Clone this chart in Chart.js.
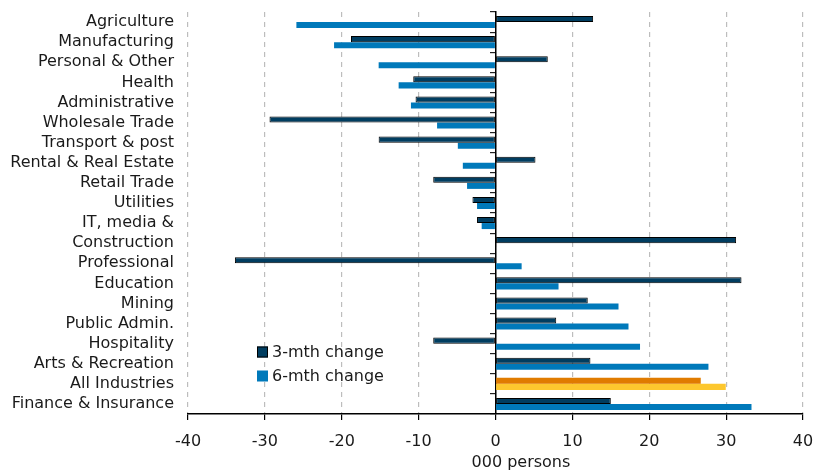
<!DOCTYPE html>
<html lang="en">
<head>
    <meta charset="UTF-8">
    <title>Employment change by industry</title>
    <script src="https://cdn.jsdelivr.net/npm/chart.js"></script>
    <style>
        html, body { margin: 0; padding: 0; background: #fff; }
        #wrap { width: 814px; height: 471px; }
    </style>
</head>
<body>
    <div id="wrap"><canvas id="myChart" width="814" height="471"></canvas></div>

    <script>
        // data (000 persons)
        const industries = [
            'Agriculture', 'Manufacturing', 'Personal & Other', 'Health', 'Administrative',
            'Wholesale Trade', 'Transport & post', 'Rental & Real Estate', 'Retail Trade', 'Utilities',
            'IT, media &', 'Construction', 'Professional', 'Education', 'Mining',
            'Public Admin.', 'Hospitality', 'Arts & Recreation', 'All Industries', 'Finance & Insurance'
        ];
        const change3m = [12.7, -18.8, 6.8, -10.7, -10.4, -29.4, -15.2, 5.2, -8.1, -3.0,
                          -2.4, 31.3, -33.9, 32.0, 12.0, 7.9, -8.1, 12.35, 26.7, 15.0];
        const change6m = [-25.9, -21.0, -15.2, -12.6, -11.0, -7.6, -4.9, -4.25, -3.7, -2.4,
                          -1.8, 0, 3.4, 8.2, 16.0, 17.3, 18.8, 27.7, 29.95, 33.3];
        const xTicks = [-40, -30, -20, -10, 0, 10, 20, 30, 40];

        const FONT = '"DejaVu Sans", Verdana, sans-serif';
        const NAVY = '#003d60';
        const BLUE = '#0079ba';
        const ORANGE = '#e07b00';
        const YELLOW = '#fdc72e';
        const totalIdx = industries.indexOf('All Industries');

        const fill3 = industries.map((_, i) => i === totalIdx ? ORANGE : NAVY);
        const border3 = industries.map((_, i) => i === totalIdx ? 0 : 1);
        const fill6 = industries.map((_, i) => i === totalIdx ? YELLOW : BLUE);

        // legend drawn inside the plot area
        const innerLegend = {
            id: 'innerLegend',
            afterDraw(chart) {
                const ctx = chart.ctx;
                const a = chart.chartArea;
                const x0 = a.left + 69;
                const rows = [a.top + 340, a.top + 364];
                ctx.save();
                ctx.font = '16px ' + FONT;
                ctx.textBaseline = 'middle';
                chart.data.datasets.forEach((ds, i) => {
                    const y = rows[i];
                    ctx.fillStyle = i === 0 ? NAVY : BLUE;
                    ctx.fillRect(x0, y - 5.5, 11, 11);
                    if (i === 0) {
                        ctx.strokeStyle = '#000';
                        ctx.lineWidth = 1;
                        ctx.strokeRect(x0 + 0.5, y - 5, 10, 10);
                    }
                    ctx.fillStyle = '#1a1a1a';
                    ctx.fillText(ds.label, x0 + 15, y + 1);
                });
                ctx.restore();
            }
        };

        const ctx = document.getElementById('myChart').getContext('2d');
        new Chart(ctx, {
            type: 'bar',
            data: {
                labels: industries,
                datasets: [
                    {
                        label: '3-mth change',
                        data: change3m,
                        backgroundColor: fill3,
                        borderColor: '#000',
                        borderWidth: border3,
                        borderSkipped: false
                    },
                    {
                        label: '6-mth change',
                        data: change6m,
                        backgroundColor: fill6,
                        borderWidth: 0
                    }
                ]
            },
            options: {
                indexAxis: 'y',
                responsive: false,
                animation: false,
                devicePixelRatio: 1,
                categoryPercentage: 0.6,
                barPercentage: 1,
                layout: { padding: { top: 12, right: 11, left: 0, bottom: 0 } },
                plugins: {
                    legend: { display: false },
                    tooltip: { enabled: false }
                },
                scales: {
                    x: {
                        min: -40,
                        max: 40,
                        afterBuildTicks: (axis) => { axis.ticks = xTicks.map(v => ({ value: v })); },
                        afterFit: (axis) => {
                            axis.height = 57;
                            axis.paddingLeft = 0;
                            axis.paddingRight = 0;
                        },
                        grid: {
                            color: '#bdbdbd',
                            lineWidth: 1.2,
                            tickColor: '#000',
                            tickLength: 6
                        },
                        border: { display: true, color: '#000', width: 1.5, dash: [5, 5] },
                        ticks: {
                            color: '#1a1a1a',
                            font: { family: FONT, size: 16 },
                            padding: 12,
                            maxRotation: 0
                        },
                        title: {
                            display: true,
                            text: '          000 persons',
                            color: '#1a1a1a',
                            font: { family: FONT, size: 16, lineHeight: 1 },
                            padding: { top: 5, bottom: 0 }
                        }
                    },
                    y: {
                        afterFit: (axis) => {
                            axis.width = 188;
                            axis.paddingTop = 0;
                            axis.paddingBottom = 0;
                        },
                        grid: { display: false, drawTicks: false },
                        border: { display: false },
                        ticks: {
                            color: '#1a1a1a',
                            font: { family: FONT, size: 16 },
                            padding: 14,
                            autoSkip: false
                        }
                    },
                    // zero line with the small category ticks
                    y2: {
                        type: 'category',
                        axis: 'y',
                        position: { x: 0 },
                        offset: true,
                        afterFit: (axis) => {
                            axis.paddingTop = 0;
                            axis.paddingBottom = 0;
                        },
                        grid: {
                            offset: true,
                            drawOnChartArea: false,
                            tickLength: 5,
                            tickColor: '#222',
                            lineWidth: 1.2
                        },
                        border: { display: true, color: '#000', width: 1.5 },
                        ticks: { display: false }
                    }
                }
            },
            plugins: [innerLegend]
        });
    </script>
</body>
</html>
